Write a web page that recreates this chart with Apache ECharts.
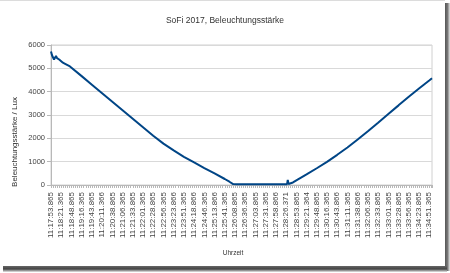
<!DOCTYPE html>
<html>
<head>
<meta charset="utf-8">
<script src="https://cdn.jsdelivr.net/npm/echarts@6/dist/echarts.min.js"></script>
<style>html,body{margin:0;padding:0;background:#fff}#c{width:450px;height:273px}</style>
</head>
<body>
<div id="c"></div>
<script>
// Seconds after 11:17:53.865
var times = [0, 2.7, 5.4, 8.1, 10.8, 13.5, 16.2, 19, 22, 27, 32, 38, 51,
  55, 82.5, 110, 137.5, 165, 192.5, 220, 247.5, 275, 302.5, 330, 357.5, 385, 412.5, 440, 467.5, 480, 490,
  500, 550, 600, 635, 637, 639, 651, 660,
  687.5, 715, 742.5, 770, 797.5, 825, 852.5, 880, 907.5, 935, 962.5, 990, 1017.5, 1025];
var lux = [5720, 5560, 5490, 5380, 5300, 5530, 5440, 5460, 5380, 5300, 5240, 5190, 5080,
  5030, 4666, 4300, 3935, 3570, 3205, 2840, 2476, 2110, 1773, 1482, 1209, 965, 725, 495, 257, 140, 40,
  35, 35, 35, 35, 220, 45, 110, 200,
  454, 718, 994, 1294, 1605, 1949, 2300, 2668, 3041, 3413, 3786, 4136, 4479, 4575];
var tickLabels = ['11:17:53.865','11:18:21.365','11:18:48.865','11:19:16.365','11:19:43.865','11:20:11.366',
  '11:20:38.865','11:21:06.365','11:21:33.865','11:22:01.365','11:22:28.865','11:22:56.365','11:23:23.866',
  '11:23:51.365','11:24:18.866','11:24:46.365','11:25:13.866','11:25:41.365','11:26:08.865','11:26:36.365',
  '11:27:03.865','11:27:31.365','11:27:58.866','11:28:26.371','11:28:53.865','11:29:21.364','11:29:48.865',
  '11:30:16.365','11:30:43.866','11:31:11.365','11:31:38.866','11:32:06.365','11:32:33.865','11:33:01.365',
  '11:33:28.865','11:33:56.365','11:34:23.865','11:34:51.365'];
var yTicks = [0, 1000, 2000, 3000, 4000, 5000, 6000];
var labelStep = 27.5;

var pts = times.map(function (t, i) { return [t, lux[i]]; });
var chart = echarts.init(document.getElementById('c'), null, {renderer: 'canvas'});
chart.setOption({
  animation: false,
  backgroundColor: '#fff',
  title: {
    text: 'SoFi 2017, Beleuchtungsstärke',
    left: 'center', top: 11,
    textStyle: {fontFamily: 'Liberation Sans', fontSize: 8.5, fontWeight: 'normal', color: '#333'}
  },
  grid: {left: 51, right: 18, top: 45, bottom: 88, show: true, borderColor: '#d0d0d0', borderWidth: 1},
  xAxis: {
    type: 'value', min: 0, max: 1025, interval: labelStep,
    axisLine: {show: true, lineStyle: {color: '#b8b8b8', width: 1}},
    axisTick: {show: true, length: 3, lineStyle: {color: '#b8b8b8'}},
    minorTick: {show: true, splitNumber: 5, length: 3, lineStyle: {color: '#b8b8b8'}},
    splitLine: {show: false},
    axisLabel: {
      rotate: 90, margin: 7, fontFamily: 'Liberation Sans', fontSize: 8, color: '#444',
      showMaxLabel: false,
      formatter: function (v) {
        var k = v / labelStep;
        if (Math.abs(k - Math.round(k)) > 1e-6) return '';
        return tickLabels[Math.round(k)] || '';
      }
    }
  },
  yAxis: {
    type: 'value', min: yTicks[0], max: yTicks[yTicks.length - 1], interval: 1000,
    axisLine: {show: true, lineStyle: {color: '#b8b8b8'}},
    axisTick: {show: true, length: 4, lineStyle: {color: '#b8b8b8'}},
    splitLine: {show: true, lineStyle: {color: '#d9d9d9', width: 1}},
    axisLabel: {margin: 6, fontFamily: 'Liberation Sans', fontSize: 7.5, color: '#444',
      formatter: function (v) { return String(v); }}
  },
  graphic: [
    {type: 'text', x: 15, y: 142, rotation: Math.PI / 2,
      style: {text: 'Beleuchtungsstärke / Lux', fontFamily: 'Liberation Sans', fontSize: 8, fill: '#333',
        align: 'center', verticalAlign: 'middle'}},
    {type: 'text', x: 233, y: 253,
      style: {text: 'Uhrzeit', fontFamily: 'Liberation Sans', fontSize: 6.5, fill: '#333',
        align: 'center', verticalAlign: 'middle'}},
    {type: 'rect', shape: {x: 0, y: 0, width: 445, height: 1}, style: {fill: '#dcdcdc'}, silent: true},
    {type: 'rect', shape: {x: 445, y: 3, width: 5, height: 268}, silent: true,
      style: {fill: new echarts.graphic.LinearGradient(0, 0, 1, 0, [
        {offset: 0, color: '#555'}, {offset: 0.5, color: '#777'}, {offset: 1, color: '#e6e6e6'}])}},
    {type: 'rect', shape: {x: 3, y: 266, width: 444, height: 6}, silent: true,
      style: {fill: new echarts.graphic.LinearGradient(0, 0, 0, 1, [
        {offset: 0, color: '#666'}, {offset: 0.5, color: '#444'}, {offset: 1, color: '#e6e6e6'}])}}
  ],
  series: [{
    type: 'line', data: pts, showSymbol: false, symbol: 'none',
    lineStyle: {color: '#004586', width: 2}, z: 3
  }]
});
</script>
</body>
</html>
